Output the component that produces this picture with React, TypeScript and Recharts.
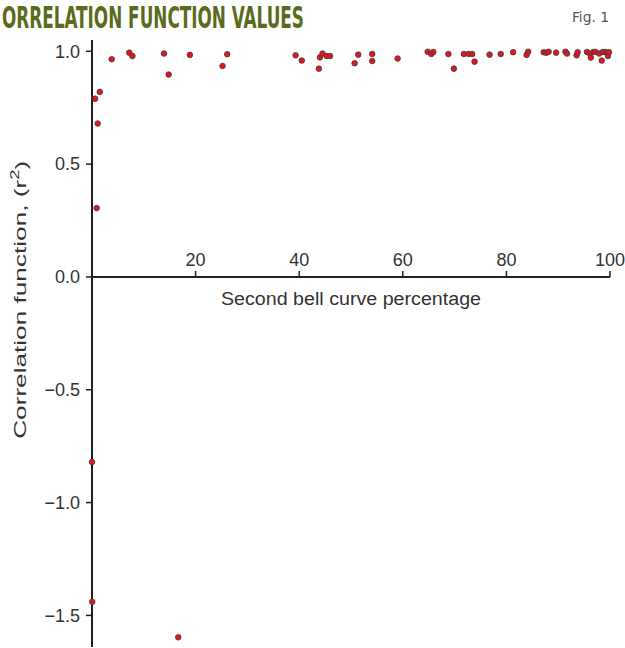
import React from 'react';
import { ScatterChart, Scatter, XAxis, YAxis, ReferenceLine } from 'recharts';

// second bell curve percentage
const xValues = [
  0.6, 1.1, 1.5, 0.9, 3.8, 7.2, 7.8, 13.9, 14.8, 18.9, 25.2, 26.1,
  0, 0.05, 16.65,
  39.3, 40.5, 43.8, 44.0, 44.5, 45.3, 45.95, 50.7, 51.4, 54.1, 54.1, 59.0,
  64.8, 65.5, 65.9, 68.8, 69.85, 71.8, 72.7, 73.4, 73.85, 76.75, 78.9,
  81.3, 83.9, 84.2, 87.2, 87.7, 88.15, 89.6, 91.4, 91.7, 93.55, 93.75,
  95.55, 96.1, 96.3, 96.8, 97.2, 97.9, 98.4, 98.6, 99.1, 99.5, 99.6, 99.8,
];
// correlation function (r²)
const rValues = [
  0.79, 0.68, 0.82, 0.305, 0.965, 0.994, 0.979, 0.99, 0.897, 0.984, 0.935, 0.987,
  -0.82, -1.44, -1.597,
  0.982, 0.959, 0.923, 0.973, 0.99, 0.979, 0.979, 0.947, 0.985, 0.988, 0.957, 0.968,
  0.998, 0.988, 0.997, 0.988, 0.923, 0.988, 0.988, 0.988, 0.954, 0.985, 0.988,
  0.996, 0.984, 0.998, 0.996, 0.993, 0.998, 0.994, 0.998, 0.99, 0.982, 0.996,
  0.997, 0.99, 0.972, 0.997, 0.997, 0.99, 0.959, 0.997, 0.997, 0.99, 0.979, 0.996,
];
const xTicks = [20, 40, 60, 80, 100];
const yTicks = [-1.5, -1, -0.5, 0, 0.5, 1];

const Y_MIN = -1.64;
const Y_MAX = 1.05;
const W = 625;
const H = 648;
const X_AXIS_H = 1;
const MARGIN = { top: 40, right: 15, bottom: 0, left: 0 };
const PLOT_H = H - MARGIN.top - MARGIN.bottom - X_AXIS_H;
const ZERO_Y = MARGIN.top + (PLOT_H * Y_MAX) / (Y_MAX - Y_MIN);

const FONT = '"Liberation Sans", Arial, Helvetica, sans-serif';
const TEXT = '#333333';
const AXIS = '#231f20';

const data = xValues.map((x, i) => ({ x, y: rValues[i] }));

const fmt = (v: number) => v.toFixed(1).replace('-', '\u2212');

// x ticks sit on the y=0 line, pointing up, labels above
const XTick = (props: any) => {
  const { x, payload } = props;
  return (
    <g>
      <line x1={x} x2={x} y1={ZERO_Y} y2={ZERO_Y - 6} stroke={AXIS} strokeWidth={1.5} />
      <text x={x} y={ZERO_Y - 11} textAnchor="middle" fontSize={18} fontFamily={FONT} fill={TEXT}>
        {payload.value}
      </text>
    </g>
  );
};

const Dot = (props: any) => (
  <circle cx={props.cx} cy={props.cy} r={2.8} fill="#e3141f" stroke="#3d3d3d" strokeWidth={0.8} />
);

const YLabel = (props: any) => {
  const vb = props.viewBox;
  const cx = 21;
  const cy = vb.y + vb.height * 0.428;
  return (
    <text
      x={cx}
      y={cy}
      transform={`rotate(-90, ${cx}, ${cy})`}
      textAnchor="middle"
      dominantBaseline="central"
      fontSize={17}
      fontFamily={FONT}
      fill={TEXT}
      textLength={278}
      lengthAdjust="spacingAndGlyphs"
    >
      Correlation function, (r<tspan dy={-6} fontSize={12}>2</tspan><tspan dy={6}>)</tspan>
    </text>
  );
};

const XLabel = (props: any) => {
  const vb = props.viewBox;
  const cx = vb.x + vb.width / 2;
  return (
    <text
      x={cx}
      y={ZERO_Y + 28}
      textAnchor="middle"
      fontSize={18}
      fontFamily={FONT}
      fill={TEXT}
      textLength={260}
      lengthAdjust="spacingAndGlyphs"
    >
      Second bell curve percentage
    </text>
  );
};

export default function App() {
  return (
    <div style={{ position: 'absolute', left: 0, top: 0, width: W, height: H, background: '#fff' }}>
      <svg width={W} height={40} style={{ position: 'absolute', left: 0, top: 0 }}>
        <text
          x={2}
          y={28}
          fontSize={30}
          fontWeight="bold"
          fontFamily='"DejaVu Sans Condensed", "DejaVu Sans", sans-serif'
          fill="#5a6b1d"
          textLength={302}
          lengthAdjust="spacingAndGlyphs"
        >
          ORRELATION FUNCTION VALUES
        </text>
        <text
          x={572}
          y={22}
          fontSize={14}
          fontFamily='"DejaVu Sans Condensed", sans-serif'
          fill="#555"
          textLength={37}
          lengthAdjust="spacingAndGlyphs"
        >
          Fig. 1
        </text>
      </svg>
      <ScatterChart width={W} height={H} margin={MARGIN} style={{ position: 'absolute', left: 0, top: 0 }}>
        <XAxis
          type="number"
          dataKey="x"
          domain={[0, 100]}
          ticks={xTicks}
          axisLine={false}
          tickLine={false}
          tick={<XTick />}
          height={X_AXIS_H}
          interval={0}
        />
        <YAxis
          type="number"
          dataKey="y"
          domain={[Y_MIN, Y_MAX]}
          ticks={yTicks}
          allowDataOverflow
          width={92}
          axisLine={{ stroke: AXIS, strokeWidth: 2 }}
          tickLine={{ stroke: AXIS, strokeWidth: 1.5 }}
          tickSize={6}
          tickMargin={6}
          tickFormatter={fmt}
          tick={{ fontSize: 18, fontFamily: FONT, fill: TEXT }}
          interval={0}
          label={<YLabel />}
        />
        <ReferenceLine y={0} stroke={AXIS} strokeWidth={2} label={<XLabel />} />
        <Scatter data={data} shape={<Dot />} isAnimationActive={false} />
      </ScatterChart>
    </div>
  );
}
